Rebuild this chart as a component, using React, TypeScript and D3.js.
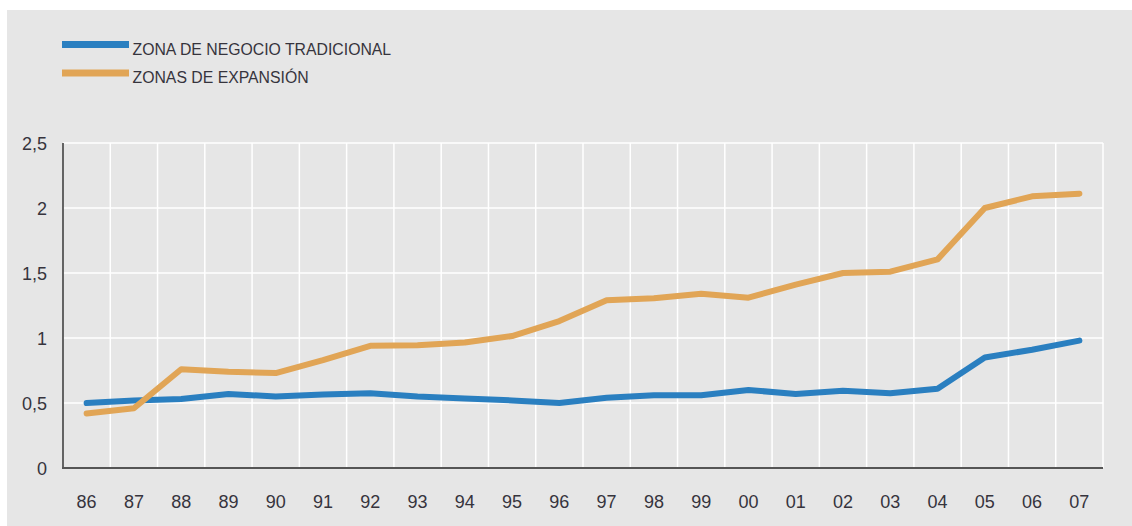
import React, { useEffect, useRef } from "react";
import * as d3 from "d3";

const years = ["86", "87", "88", "89", "90", "91", "92", "93", "94", "95", "96", "97", "98", "99", "00", "01", "02", "03", "04", "05", "06", "07"];
const tradicional = [0.5, 0.52, 0.53, 0.57, 0.55, 0.565, 0.575, 0.55, 0.535, 0.52, 0.5, 0.54, 0.56, 0.56, 0.6, 0.57, 0.595, 0.575, 0.61, 0.85, 0.91, 0.98];
const expansion = [0.42, 0.46, 0.76, 0.74, 0.73, 0.83, 0.94, 0.945, 0.965, 1.015, 1.13, 1.29, 1.305, 1.34, 1.31, 1.41, 1.5, 1.51, 1.605, 2.0, 2.09, 2.11];
const yTicks = [0, 0.5, 1, 1.5, 2, 2.5];

const seriesList = [
    { name: "ZONA DE NEGOCIO TRADICIONAL", values: tradicional, color: "#2a7fc0" },
    { name: "ZONAS DE EXPANSIÓN", values: expansion, color: "#e1a556" },
];

const W = 1132, H = 526;
const font = "'Liberation Sans', Arial, sans-serif";

export default function App() {
    const ref = useRef<SVGSVGElement>(null);

    useEffect(() => {
        const svg = d3.select(ref.current);
        svg.selectAll("*").remove();

        const left = 63, right = 1103, top = 143, bottom = 468;

        // background panel
        svg.append("rect")
            .attr("x", 7).attr("y", 10)
            .attr("width", W - 7).attr("height", H - 10)
            .attr("fill", "#e6e6e6");

        const x = d3.scaleBand().domain(years).range([left, right]).padding(0);
        const y = d3.scaleLinear().domain([0, 2.5]).range([bottom, top]);

        // grid
        const grid = svg.append("g");
        grid.selectAll("line.h")
            .data(yTicks.filter(d => d > 0))
            .enter().append("line")
            .attr("x1", left).attr("x2", right)
            .attr("y1", d => y(d)).attr("y2", d => y(d))
            .attr("stroke", "#ffffff").attr("stroke-width", 1.5);
        grid.selectAll("line.v")
            .data(years.slice(1).concat(["end"]))
            .enter().append("line")
            .attr("x1", d => d === "end" ? right : x(d)!)
            .attr("x2", d => d === "end" ? right : x(d)!)
            .attr("y1", top).attr("y2", bottom)
            .attr("stroke", "#ffffff").attr("stroke-width", 1.5);

        // axes lines
        svg.append("line")
            .attr("x1", left).attr("x2", left)
            .attr("y1", top).attr("y2", bottom + 1)
            .attr("stroke", "#555").attr("stroke-width", 1.8);
        svg.append("line")
            .attr("x1", left - 1).attr("x2", right)
            .attr("y1", bottom).attr("y2", bottom)
            .attr("stroke", "#555").attr("stroke-width", 1.8);

        // y tick labels
        svg.append("g").selectAll("text")
            .data(yTicks)
            .enter().append("text")
            .attr("x", 47)
            .attr("y", d => y(d) + 1)
            .attr("text-anchor", "end")
            .attr("dominant-baseline", "central")
            .style("font-family", font)
            .style("font-size", "18px")
            .attr("fill", "#36343d")
            .text(d => d3.format(".1~f")(d).replace(".", ","));

        // x tick labels
        svg.append("g").selectAll("text")
            .data(years)
            .enter().append("text")
            .attr("x", d => x(d)! + x.bandwidth() / 2)
            .attr("y", 502)
            .attr("text-anchor", "middle")
            .attr("dominant-baseline", "central")
            .style("font-family", font)
            .style("font-size", "18px")
            .attr("fill", "#36343d")
            .text(d => d);

        // lines
        const line = d3.line<number>()
            .x((d, i) => x(years[i])! + x.bandwidth() / 2)
            .y(d => y(d));

        seriesList.forEach(s => {
            svg.append("path")
                .datum(s.values)
                .attr("d", line)
                .attr("fill", "none")
                .attr("stroke", s.color)
                .attr("stroke-width", 6)
                .attr("stroke-linejoin", "round")
                .attr("stroke-linecap", "round");
        });

        // legend
        const legend = svg.append("g");
        seriesList.forEach((s, i) => {
            const ly = 44.5 + i * 28.5;
            legend.append("line")
                .attr("x1", 62).attr("x2", 129)
                .attr("y1", ly).attr("y2", ly)
                .attr("stroke", s.color)
                .attr("stroke-width", 7);
            legend.append("text")
                .attr("x", 132.5)
                .attr("y", ly + 10)
                .style("font-family", font)
                .style("font-size", "15.8px")
                .attr("fill", "#36343d")
                .text(s.name);
        });
    }, []);

    return (
        <svg ref={ref} width={W} height={H}
            style={{ position: "absolute", left: 0, top: 0, background: "#ffffff" }} />
    );
}
